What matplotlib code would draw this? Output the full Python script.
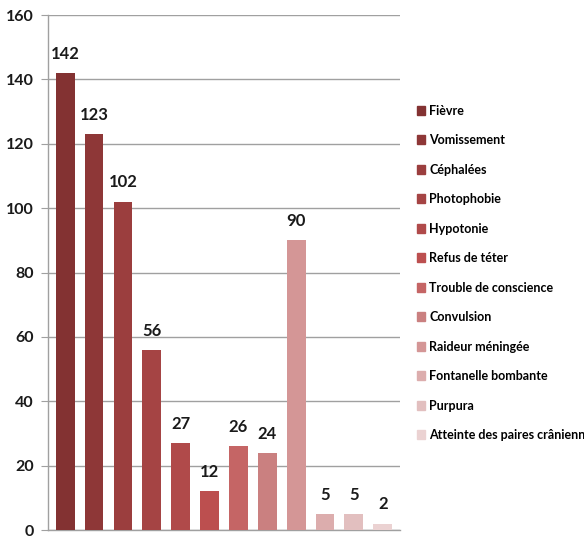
import matplotlib.pyplot as plt
import numpy as np

# Symptômes et effectifs
symptomes = ["Fièvre", "Vomissement", "Céphalées", "Photophobie", "Hypotonie",
             "Refus de téter", "Trouble de conscience", "Convulsion",
             "Raideur méningée", "Fontanelle bombante", "Purpura",
             "Atteinte des paires crâniennes"]
effectifs = [142, 123, 102, 56, 27, 12, 26, 24, 90, 5, 5, 2]
couleurs = ["#833232", "#8e3737", "#9b3e3e", "#a54444", "#b04a4a", "#bc4f4f",
            "#c56565", "#ca8080", "#d49696", "#dcadad", "#e2bfbf", "#ebd2d2"]
yticks = [0, 20, 40, 60, 80, 100, 120, 140, 160]

plt.rcParams['font.family'] = ['Lato', 'DejaVu Sans']

fig = plt.figure(figsize=(5.84, 5.36), dpi=100)
ax = fig.add_axes([0.082, 0.011, 0.603, 0.961])

x = np.arange(len(effectifs))
ax.bar(x, effectifs, width=0.65, color=couleurs, label=symptomes, zorder=3)

for xi, v in zip(x, effectifs):
    ax.text(xi, v + 3.5, str(v), ha='center', va='bottom', fontsize=12,
            fontweight='bold', color='#1a1a1a')

ax.set_xlim(-0.6, len(effectifs) - 0.4)
ax.set_ylim(0, 160)
ax.set_yticks(yticks)
ax.set_xticks([])
ax.tick_params(axis='y', length=5, color='#a0a0a0', labelsize=11.5, pad=5,
               labelcolor='#1a1a1a')
for lab in ax.get_yticklabels():
    lab.set_fontweight('bold')
ax.grid(axis='y', color='#a0a0a0', linewidth=1, zorder=0)
for s in ['top', 'right']:
    ax.spines[s].set_visible(False)
for s in ['left', 'bottom']:
    ax.spines[s].set_color('#a0a0a0')
    ax.spines[s].set_linewidth(1)

handles = [plt.Rectangle((0, 0), 1, 1, color=c) for c in couleurs]
fig.legend(handles, symptomes, loc='upper left', bbox_to_anchor=(0.695, 0.826),
           frameon=False, handlelength=0.65, handleheight=0.75,
           handletextpad=0.3, labelspacing=1.4,
           prop={'family': ['Lato', 'DejaVu Sans'], 'weight': 'bold', 'size': 9})

fig.savefig("out.png", dpi=100)
